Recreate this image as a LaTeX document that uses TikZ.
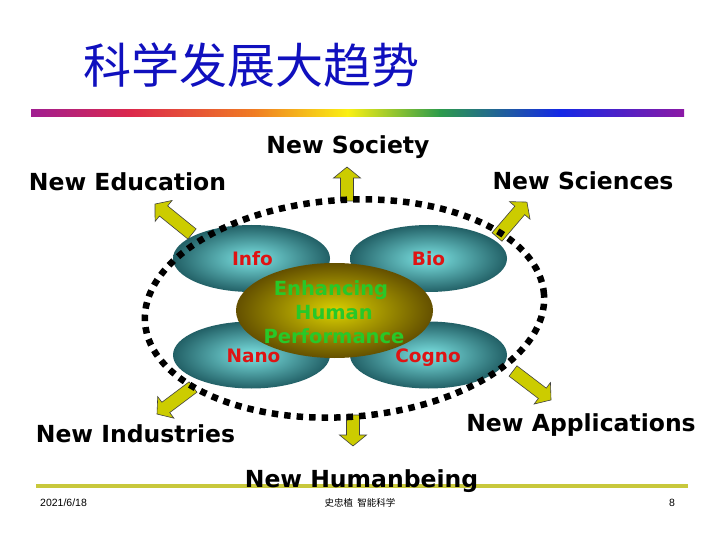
\documentclass[tikz,border=0pt]{standalone}
\usepackage{fontspec}
\setmainfont{DejaVu Sans}
\newfontfamily\cjk{Noto Sans CJK SC}
\newfontfamily\arialf{Liberation Sans}
\usetikzlibrary{shapes.geometric}
\definecolor{titleblue}{RGB}{16,16,190}
\definecolor{rb1}{RGB}{160,30,145}
\definecolor{rb2}{RGB}{220,40,75}
\definecolor{rb3}{RGB}{240,125,35}
\definecolor{rb4}{RGB}{250,240,20}
\definecolor{rb5}{RGB}{45,155,75}
\definecolor{rb6}{RGB}{20,40,230}
\definecolor{rb7}{RGB}{140,25,165}
\definecolor{footrule}{RGB}{200,200,60}
\definecolor{tealin}{RGB}{125,228,228}
\definecolor{tealout}{RGB}{34,96,102}
\definecolor{olivein}{RGB}{218,208,0}
\definecolor{oliveout}{RGB}{100,80,0}
\definecolor{arrowyellow}{RGB}{204,204,0}
\definecolor{labelred}{RGB}{222,20,20}
\definecolor{enhgreen}{RGB}{40,200,40}
\newcommand\blockarr[3]{%
  \begin{scope}[shift={(#1)}, rotate=#2]
    \pgfmathsetmacro\hb{#3-11}
    \filldraw[arrowsty] (0pt,-6.5pt) -- (\hb pt,-6.5pt) -- (\hb pt,-13.5pt) -- (#3pt,0pt)
      -- (\hb pt,13.5pt) -- (\hb pt,6.5pt) -- (0pt,6.5pt) -- cycle;
  \end{scope}}
\tikzset{
  bigtxt/.style={font=\bfseries\fontsize{23.5}{28}\selectfont, anchor=base, inner sep=0},
  tealell/.style={ellipse, inner sep=0, minimum width=157pt, minimum height=67pt,
    shade, inner color=tealin, outer color=tealout},
  olivell/.style={ellipse, inner sep=0, minimum width=197pt, minimum height=95pt,
    shade, inner color=olivein, outer color=oliveout},
  redlbl/.style={font=\bfseries\fontsize{18.5}{20}\selectfont, text=labelred, anchor=base, inner sep=0},
  enhlbl/.style={font=\bfseries\fontsize{19.5}{22}\selectfont, text=enhgreen, anchor=base, inner sep=0},
  arrowsty/.style={fill=arrowyellow, draw=black!75, line width=0.6pt, line join=miter},
  dotring/.style={draw=black, line width=6.5pt, dash pattern=on 6.5pt off 6pt},
  foot/.style={inner sep=0, anchor=base}
}
\begin{document}
\begin{tikzpicture}[x=1pt, y=-1pt]
\useasboundingbox (0,0) rectangle (720,540);
\fill[white] (0,0) rectangle (720,540);

% title
\node[anchor=west, inner sep=0, text=titleblue, font=\cjk\fontsize{48}{52}\selectfont] (title) at (83,65) {科学发展大趋势};

% rainbow rule
\shade[left color=rb1, right color=rb2] (31,109.5) rectangle (131,116.5);
\shade[left color=rb2, right color=rb3] (130.5,109.5) rectangle (255,116.5);
\shade[left color=rb3, right color=rb4] (254.5,109.5) rectangle (348,116.5);
\shade[left color=rb4, right color=rb5] (347.5,109.5) rectangle (440,116.5);
\shade[left color=rb5, right color=rb6] (439.5,109.5) rectangle (560,116.5);
\shade[left color=rb6, right color=rb7] (559.5,109.5) rectangle (684,116.5);

% bottom rule
\fill[footrule] (36,484) rectangle (688,488);

% teal ellipses
\node[tealell] (infoE) at (251.5,258.5) {};
\node[tealell] (bioE) at (428.5,258.5) {};
\node[tealell] (nanoE) at (251.5,355) {};
\node[tealell] (cognoE) at (428.5,355) {};
\node[olivell] (core) at (334.5,310.5) {};

\node[redlbl] (info) at (252.5,265.5) {Info};
\node[redlbl] (bio) at (428.5,265.5) {Bio};
\node[redlbl] (nano) at (253.5,362.5) {Nano};
\node[redlbl] (cogno) at (428,362.5) {Cogno};

\node[enhlbl] (enh1) at (331,295) {Enhancing};
\node[enhlbl] (enh2) at (334,319) {Human};
\node[enhlbl] (enh3) at (334,343) {Performance};

% block arrows
\coordinate (tTop) at (347,201);
\coordinate (tUL) at (192,234);
\coordinate (tUR) at (497,237);
\coordinate (tLL) at (193,387);
\coordinate (tLR) at (513,371);
\coordinate (tBot) at (353,415);
\blockarr{tTop}{90}{34}
\blockarr{tUL}{141}{47.6}
\blockarr{tUR}{49.4}{46}
\blockarr{tLL}{216.9}{45}
\blockarr{tLR}{-37.3}{47.8}
\blockarr{tBot}{-90}{31}

% dotted ring
\draw[dotring] (344.5,308.5) ellipse [x radius=200pt, y radius=108.5pt, rotate=4];

% outer labels
\node[bigtxt] (soc) at (348,153.5) {New Society};
\node[bigtxt] (edu) at (127.5,191) {New Education};
\node[bigtxt] (sci) at (583,190) {New Sciences};
\node[bigtxt] (ind) at (135.5,442.5) {New Industries};
\node[bigtxt] (app) at (581,431.5) {New Applications};
\node[bigtxt] (hum) at (361.5,487) {New Humanbeing};

% footer
\node[foot, anchor=base west, font=\arialf\fontsize{10.5}{12}\selectfont] (date) at (40,506) {2021/6/18};
\node[foot, font=\cjk\fontsize{9.5}{11}\selectfont] (author) at (360,506) {史忠植\ \ 智能科学};
\node[foot, font=\arialf\fontsize{10.5}{12}\selectfont] (page) at (672,506) {8};
\end{tikzpicture}
\end{document}
